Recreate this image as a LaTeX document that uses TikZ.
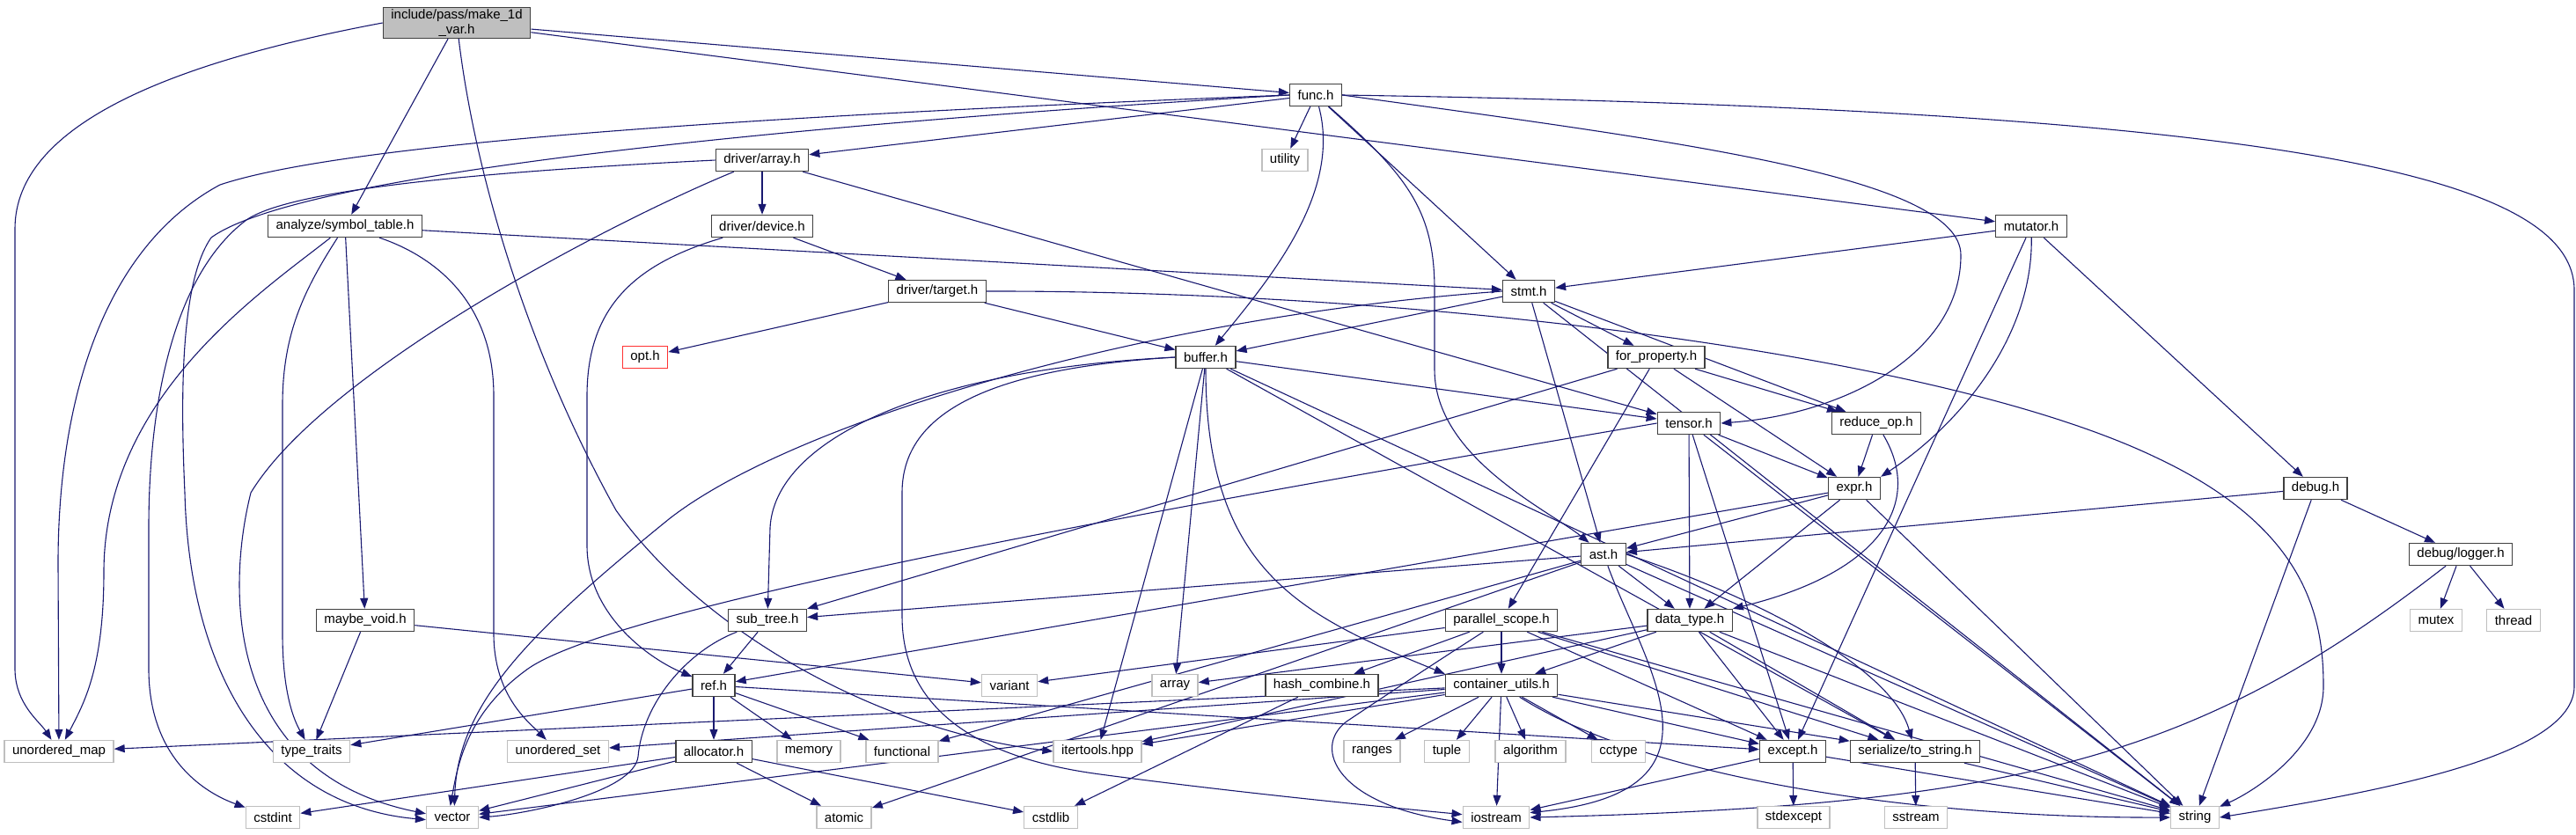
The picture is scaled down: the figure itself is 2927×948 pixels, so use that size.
\documentclass[tikz,border=0pt]{standalone}
\usepackage{fontspec}
\setmainfont{Liberation Sans}
\usepackage{tikz}
\usetikzlibrary{arrows.meta,backgrounds}

\definecolor{edgeblue}{HTML}{191970}
\definecolor{sysgray}{HTML}{BFBFBF}
\definecolor{docgray}{HTML}{404040}

\tikzset{
    hdr/.style={draw=docgray, line width=1.4pt, fill=white, minimum height=25pt, inner xsep=9pt, inner ysep=3pt, font=\fontsize{15}{17}\selectfont},
    syshdr/.style={hdr, draw=sysgray},
    badhdr/.style={hdr, draw=red!80!white},
    mainhdr/.style={hdr, fill=sysgray, align=center, inner ysep=2pt},
    dep/.style={draw=edgeblue, line width=1.1pt, -{Triangle[length=12pt,width=9pt]}}
}

\begin{document}
\begin{tikzpicture}[x=1pt,y=-1pt]
    \useasboundingbox (0,0) rectangle (2927,948);
    \node[mainhdr] (make) at (519,26) {include/pass/make\_1d\\\_var.h};
    \node[hdr] (symtab) at (392,257) {analyze/symbol\_table.h};
    \node[hdr] (func) at (1495,108) {func.h};
    \node[hdr] (darray) at (866,182) {driver/array.h};
    \node[syshdr] (utility) at (1460,182) {utility};
    \node[hdr] (ddevice) at (866,257) {driver/device.h};
    \node[hdr] (mutator) at (2308,257) {mutator.h};
    \node[hdr] (dtarget) at (1065,331) {driver/target.h};
    \node[hdr] (stmt) at (1737,331) {stmt.h};
    \node[badhdr] (opt) at (733,406) {opt.h};
    \node[hdr] (buffer) at (1370,406) {buffer.h};
    \node[hdr] (forprop) at (1882,406) {for\_property.h};
    \node[hdr] (tensor) at (1919,481) {tensor.h};
    \node[hdr] (reduceop) at (2132,481) {reduce\_op.h};
    \node[hdr] (expr) at (2107,555) {expr.h};
    \node[hdr] (debug) at (2631,555) {debug.h};
    \node[hdr] (ast) at (1822,630) {ast.h};
    \node[hdr] (logger) at (2796,630) {debug/logger.h};
    \node[hdr] (maybevoid) at (415,705) {maybe\_void.h};
    \node[hdr] (subtree) at (872,705) {sub\_tree.h};
    \node[hdr] (pscope) at (1706,705) {parallel\_scope.h};
    \node[hdr] (dtype) at (1920,705) {data\_type.h};
    \node[syshdr] (mutex) at (2768,705) {mutex};
    \node[syshdr] (thread) at (2856,705) {thread};
    \node[hdr] (ref) at (811,779) {ref.h};
    \node[syshdr] (variant) at (1147,779) {variant};
    \node[syshdr] (array) at (1335,779) {array};
    \node[hdr] (hashc) at (1502,779) {hash\_combine.h};
    \node[hdr] (cutils) at (1706,779) {container\_utils.h};
    \node[syshdr] (umap) at (67,854) {unordered\_map};
    \node[syshdr] (typetr) at (354,854) {type\_traits};
    \node[syshdr] (uset) at (634,854) {unordered\_set};
    \node[hdr] (alloc) at (811,854) {allocator.h};
    \node[syshdr] (memory) at (919,854) {memory};
    \node[syshdr] (functional) at (1025,854) {functional};
    \node[syshdr] (itertools) at (1247,854) {itertools.hpp};
    \node[syshdr] (ranges) at (1559,854) {ranges};
    \node[syshdr] (tuple) at (1644,854) {tuple};
    \node[syshdr] (algorithm) at (1739,854) {algorithm};
    \node[syshdr] (cctype) at (1839,854) {cctype};
    \node[hdr] (except) at (2037,854) {except.h};
    \node[hdr] (tostring) at (2176,854) {serialize/to\_string.h};
    \node[syshdr] (cstdint) at (310,929) {cstdint};
    \node[syshdr] (vector) at (514,929) {vector};
    \node[syshdr] (atomic) at (959,929) {atomic};
    \node[syshdr] (cstdlib) at (1194,929) {cstdlib};
    \node[syshdr] (iostream) at (1700,929) {iostream};
    \node[syshdr] (stdexcept) at (2038,929) {stdexcept};
    \node[syshdr] (sstream) at (2177,929) {sstream};
    \node[syshdr] (string) at (2494,929) {string};

    \begin{scope}[on background layer]
    \foreach \a/\b in {make/symtab, make/func, make/mutator,
        symtab/stmt, symtab/maybevoid,
        func/darray, func/utility, func/stmt,
        darray/ddevice, darray/tensor,
        ddevice/dtarget,
        dtarget/opt, dtarget/buffer,
        mutator/stmt, mutator/debug, mutator/except,
        stmt/buffer, stmt/forprop, stmt/ast, stmt/reduceop, stmt/string,
        buffer/tensor, buffer/itertools, buffer/array, buffer/string, buffer/tostring,
        forprop/reduceop, forprop/expr, forprop/subtree, forprop/pscope,
        tensor/expr, tensor/dtype, tensor/except, tensor/string,
        expr/ast, expr/dtype, expr/string, expr/ref,
        debug/ast, debug/logger, debug/string,
        logger/mutex, logger/thread,
        ast/subtree, ast/dtype, ast/string, ast/atomic, ast/functional,
        subtree/ref,
        ref/alloc, ref/memory, ref/functional, ref/typetr, ref/except,
        alloc/atomic, alloc/cstdlib, alloc/cstdint, alloc/vector,
        maybevoid/typetr, maybevoid/variant,
        pscope/cutils, pscope/hashc, pscope/variant, pscope/except, pscope/tostring, pscope/string,
        dtype/cutils, dtype/except, dtype/tostring, dtype/string, dtype/array, dtype/itertools,
        cutils/umap, cutils/uset, cutils/vector, cutils/itertools, cutils/iostream, cutils/ranges, cutils/tuple,
        cutils/algorithm, cutils/cctype, cutils/except, cutils/tostring,
        hashc/cstdlib,
        except/stdexcept, except/iostream, except/string,
        tostring/sstream, tostring/string}
        {\draw[dep] (\a) -- (\b);}

    \draw[dep] (make.west) .. controls (200,70) and (17,140) .. (17,260) -- (17,760) .. controls (17,800) and (45,820) .. (umap);
    \draw[dep] (make) .. controls (540,200) and (600,400) .. (700,580) .. controls (800,720) and (1000,830) .. (itertools.west);
    \draw[dep] (symtab) .. controls (300,330) and (118,450) .. (118,650) .. controls (118,760) and (95,800) .. (umap);
    \draw[dep] (symtab) .. controls (345,330) and (321,380) .. (321,460) -- (321,720) .. controls (321,790) and (335,820) .. (typetr);
    \draw[dep] (symtab) .. controls (490,290) and (561,340) .. (561,450) -- (561,720) .. controls (561,790) and (600,820) .. (uset);
    \draw[dep] (func.west) .. controls (900,130) and (400,160) .. (250,210) .. controls (120,280) and (66,450) .. (66,640) -- (umap);
    \draw[dep] (func.west) .. controls (1000,135) and (350,190) .. (240,270) .. controls (205,320) and (205,450) .. (210,560) .. controls (215,760) and (300,915) .. (vector.185);
    \draw[dep] (func) .. controls (1525,220) and (1440,320) .. (buffer);
    \draw[dep] (func) .. controls (1600,200) and (1630,240) .. (1630,330) -- (1630,420) .. controls (1630,520) and (1760,580) .. (ast);
    \draw[dep] (func.east) .. controls (1900,160) and (2228,200) .. (2228,290) .. controls (2228,400) and (2100,470) .. (tensor.east);
    \draw[dep] (func.east) .. controls (2600,125) and (2925,200) .. (2925,330) -- (2925,780) .. controls (2925,860) and (2700,900) .. (string.east);
    \draw[dep] (darray.west) .. controls (550,195) and (330,215) .. (280,250) .. controls (200,310) and (169,450) .. (169,600) -- (169,760) .. controls (169,860) and (230,900) .. (cstdint);
    \draw[dep] (darray) .. controls (700,250) and (370,420) .. (285,560) .. controls (255,680) and (262,880) .. (vector.172);
    \draw[dep] (ddevice) .. controls (720,300) and (667,350) .. (667,450) -- (667,620) .. controls (667,700) and (740,750) .. (ref);
    \draw[dep] (dtarget.east) .. controls (1600,330) and (2200,400) .. (2450,520) .. controls (2620,600) and (2640,700) .. (2640,780) .. controls (2640,850) and (2560,900) .. (string);
    \draw[dep] (mutator) .. controls (2310,380) and (2230,480) .. (expr.north east);
    \draw[dep] (stmt.west) .. controls (1300,360) and (900,480) .. (760,590) .. controls (600,720) and (520,800) .. (vector.80);
    \draw[dep] (buffer.west) .. controls (1050,420) and (880,500) .. (875,600) -- (subtree);
    \draw[dep] (buffer.west) .. controls (1100,420) and (1025,480) .. (1025,560) -- (1025,700) .. controls (1025,800) and (1100,860) .. (1250,880) .. controls (1400,900) and (1550,915) .. (iostream.175);
    \draw[dep] (buffer) .. controls (1370,650) and (1480,700) .. (cutils.north west);
    \draw[dep] (tensor.west) .. controls (1300,580) and (700,690) .. (600,760) .. controls (530,810) and (520,870) .. (vector.100);
    \draw[dep] (reduceop) .. controls (2185,570) and (2140,650) .. (dtype.north east);
    \draw[dep] (reduceop) -- (expr);
    \draw[dep] (ast.east) .. controls (2000,680) and (2150,760) .. (tostring);
    \draw[dep] (ast) .. controls (1870,760) and (1975,900) .. (iostream.8);
    \draw[dep] (subtree) .. controls (780,740) and (730,800) .. (725,860) .. controls (720,900) and (600,925) .. (vector.east);
    \draw[dep] (pscope) .. controls (1620,760) and (1560,800) .. (1530,820) .. controls (1490,850) and (1520,915) .. (iostream.188);
    \draw[dep] (cutils) .. controls (1880,890) and (2200,930) .. (string.west);
    \draw[dep] (logger) .. controls (2500,860) and (2300,915) .. (iostream.east);
    \end{scope}
\end{tikzpicture}
\end{document}
